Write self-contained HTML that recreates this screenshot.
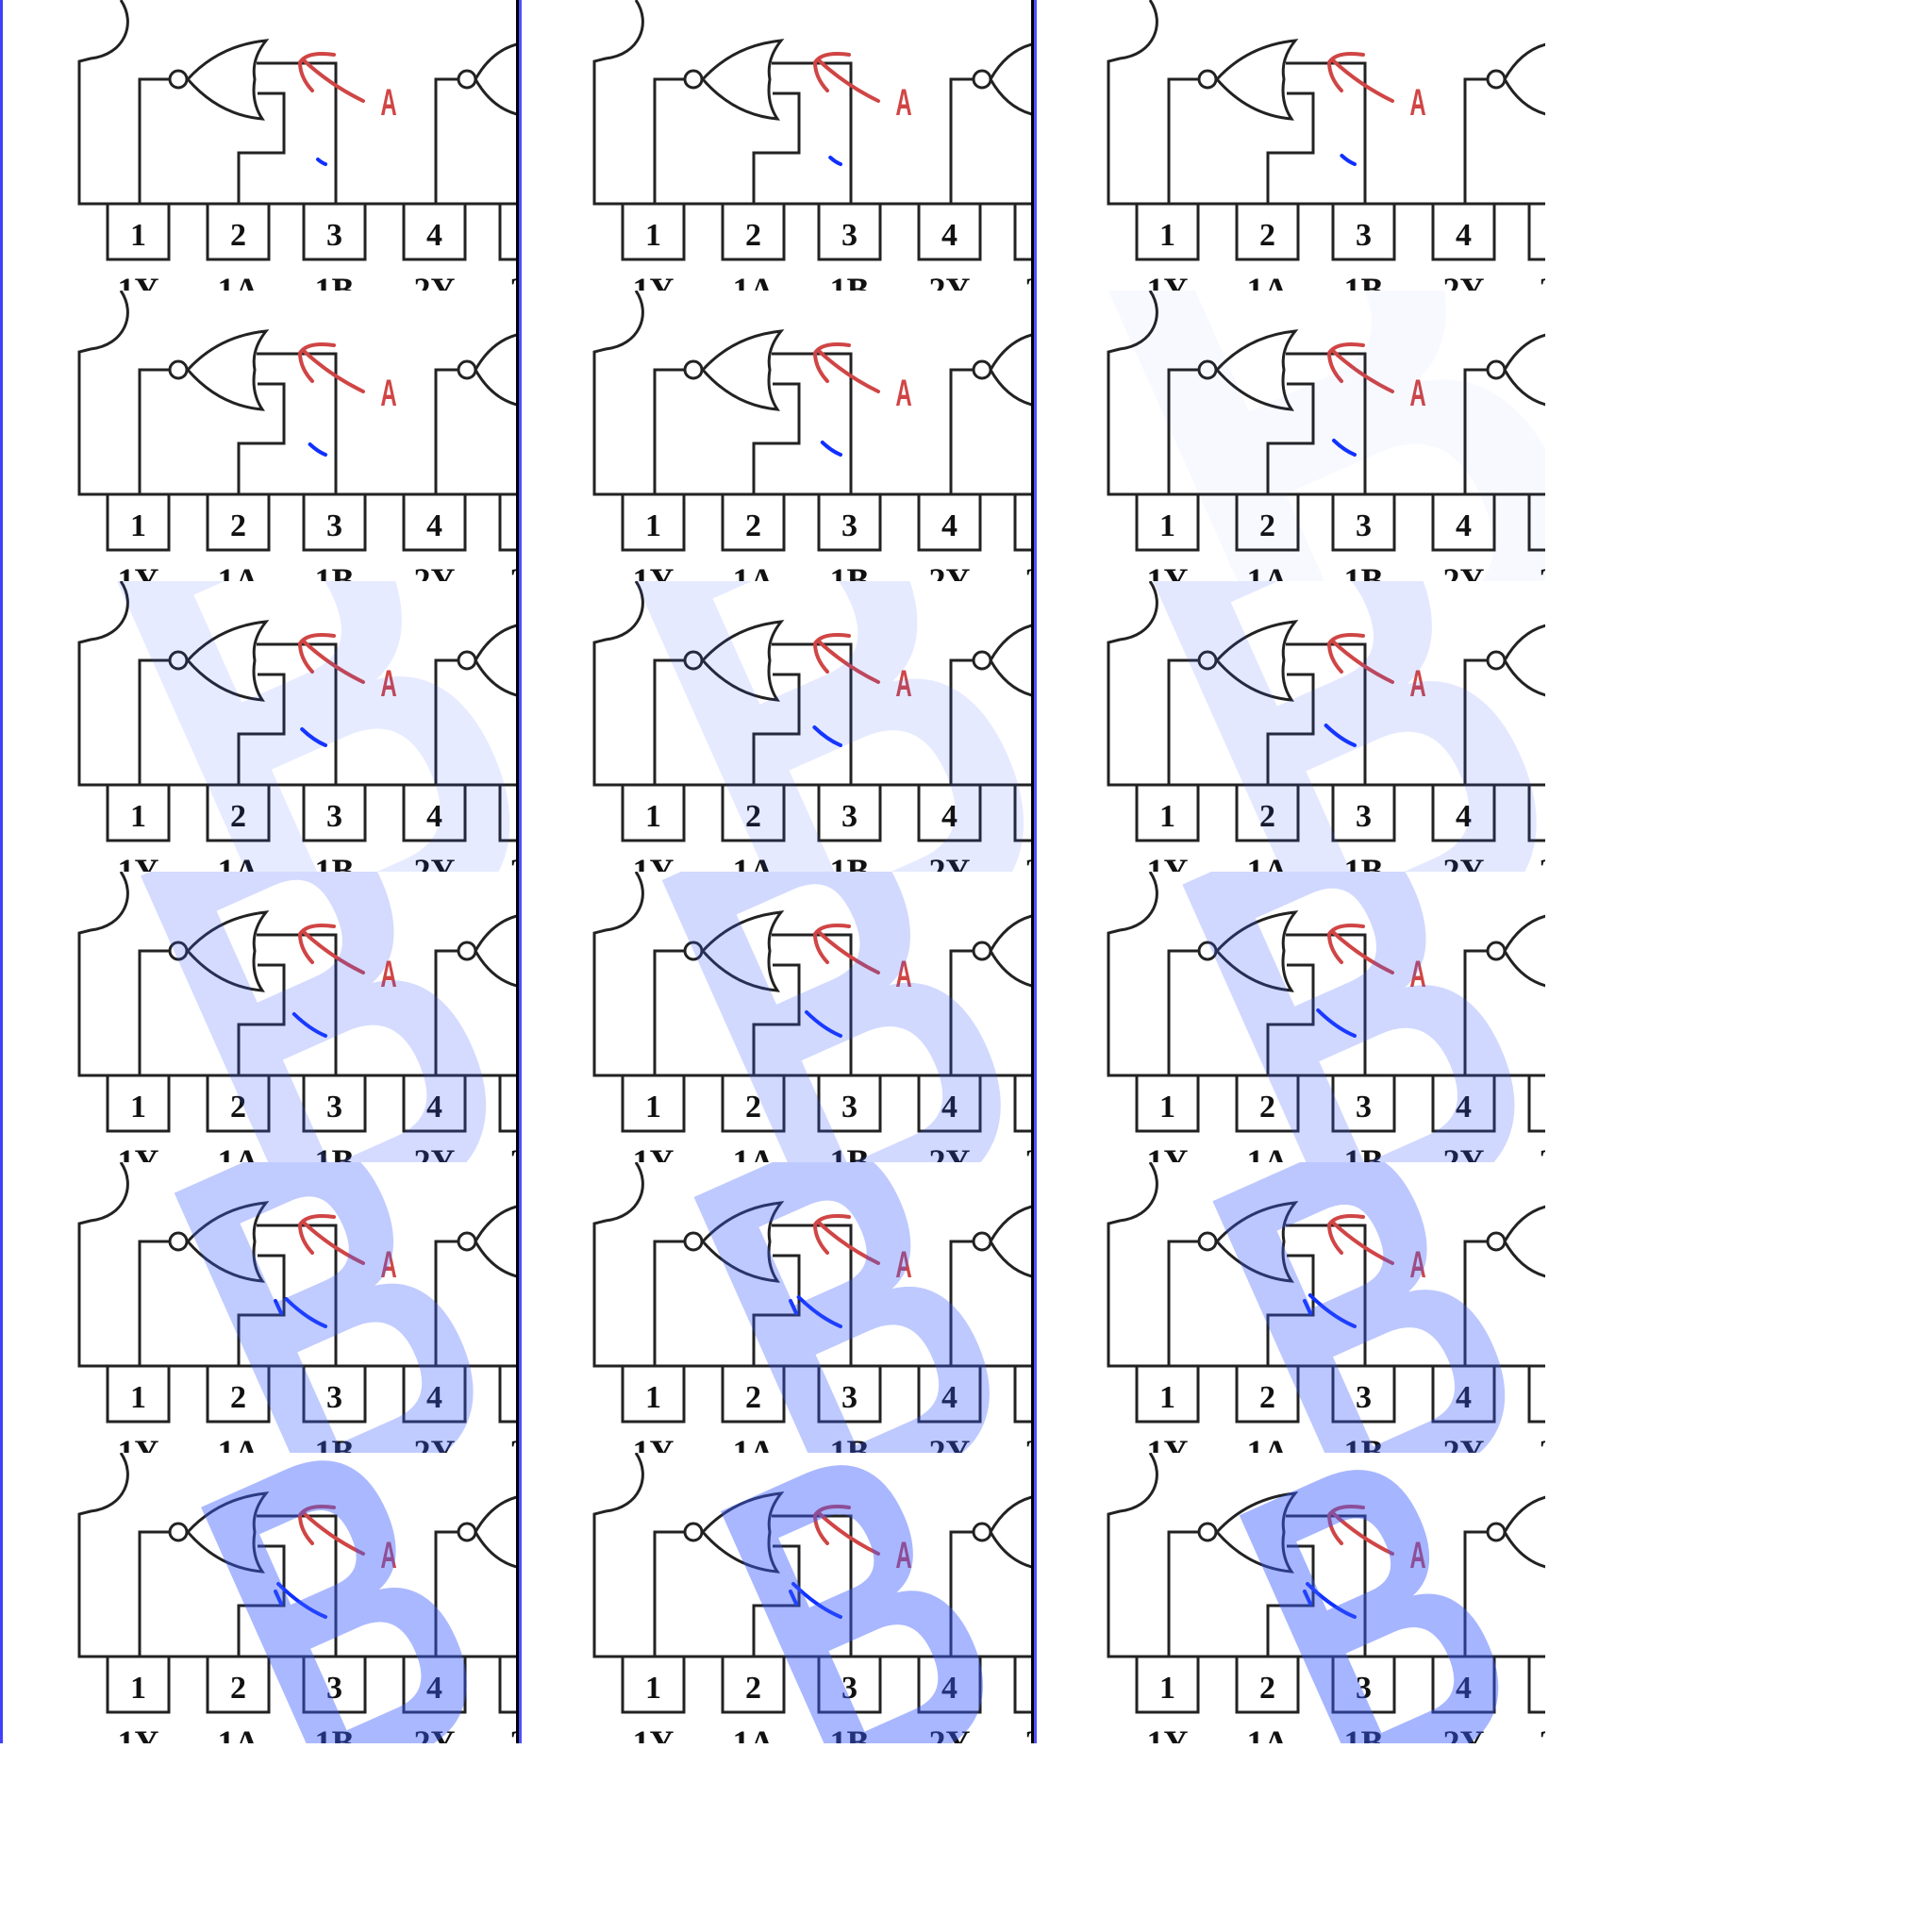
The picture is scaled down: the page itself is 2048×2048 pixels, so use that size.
<!DOCTYPE html>
<html><head><meta charset="utf-8"><style>
html,body{margin:0;padding:0;background:#fff;width:2048px;height:2048px;overflow:hidden}
svg{display:block}
</style></head><body>
<svg id="root" width="2048" height="2048" viewBox="0 0 2048 2048" xmlns="http://www.w3.org/2000/svg">
<rect width="2048" height="2048" fill="#fff"/>
<defs>
<clipPath id="c0"><rect x="0" y="0" width="547" height="308"/></clipPath>
</defs>
<g id="tiles"></g>
<g id="borders"></g>
</svg>
<script>
const NS='http://www.w3.org/2000/svg';
// per-frame watermark values
const bOpacity=[0,0,0,0,0,0.04, 0.12,0.13,0.14, 0.22,0.23,0.24, 0.32,0.33,0.34, 0.43,0.44,0.45];
const bSize=[0,0,0,0,0,750, 610,600,590, 520,510,500, 450,445,440, 400,395,390];
const bCx=[0,0,0,0,0,330, 335,337,339, 340,343,346, 350,353,356, 360,363,366];
const bCy=[0,0,0,0,0,130, 130,132,134, 140,142,144, 150,153,156, 162,165,168];
const pinDigits=['1','2','3','4','5'];
const pinLabels=['1Y','1A','1B','2Y','2A'];
const pinX=[114,220,322,428,530];

function el(tag,attrs,parent){const e=document.createElementNS(NS,tag);for(const k in attrs)e.setAttribute(k,attrs[k]);if(parent)parent.appendChild(e);return e;}

const tiles=document.getElementById('tiles');
const colX=[0,546,1091], rowH=308;
for(let r=0;r<6;r++)for(let c=0;c<3;c++){
  const f=r*3+c;
  const g=el('g',{transform:`translate(${colX[c]},${r*rowH})`,'clip-path':'url(#c0)'},tiles);
  
  
  const s={stroke:'#222','stroke-width':3,fill:'none'};
  const circ=el('g',s,g);
  
  
  el('path',{d:'M128,0 C145,25 132,58 96,62 L84,65 V216 H552'},circ);
  el('path',{d:'M199,84 Q232,48 282,43 Q266,63 270,84 Q266,108 278,126 Q232,122 199,84 Z'},circ);
  el('circle',{cx:189,cy:84,r:9},circ);
  el('path',{d:'M180,84 H148 V216'},circ);
  el('path',{d:'M272,67 H356 V216'},circ);
  el('path',{d:'M273,99 H301 V162 H253 V216'},circ);
  el('circle',{cx:495,cy:84,r:9},circ);
  el('path',{d:'M486,84 H462 V216'},circ);
  el('path',{d:'M504,84 Q522,52 552,46 M504,84 Q522,116 552,122'},circ);
  for(let i=0;i<5;i++){
    const b=el('rect',{x:pinX[i],y:216,width:65,height:59},circ);
    
    
    const t=el('text',{x:pinX[i]+32.5,y:260,'text-anchor':'middle','font-family':'Liberation Serif, serif','font-weight':'bold','font-size':34,fill:'#111',stroke:'none'},g);
    t.textContent=pinDigits[i];
    
    
    const l=el('text',{x:pinX[i]+32.5,y:319,'text-anchor':'middle','font-family':'Liberation Serif, serif','font-weight':'bold','font-size':36,fill:'#111'},g);
    l.textContent=pinLabels[i];
    
    
  }
  const red=el('path',{d:'M354,58 Q326,54 318,66 Q318,82 331,96 M322,64 Q350,90 385,107',stroke:'#d04545','stroke-width':4,fill:'none','stroke-linecap':'round'},g);
  
  
  const A=el('text',{x:0,y:0,transform:'translate(412,122) scale(0.6,1)','text-anchor':'middle','font-family':'Liberation Sans, sans-serif','font-weight':'bold','font-size':40,fill:'#d04545'},g);
  A.textContent='A';
  
  
  const k=Math.min(f,15)/15;
  const sx=337-42*k, sy=169-30*k;
  let d=`M${sx},${sy} Q${(sx+345)/2},${sy+ (174-sy)*0.7} 345,174`;
  if(f>=12) d+=' M292,147 L298,160';
  const blue=el('path',{d:d,stroke:'#1030ff','stroke-width':4,fill:'none','stroke-linecap':'round'},g);
  
  
  if(bOpacity[f]>0){
    const B=el('text',{x:0,y:bSize[f]*0.365,transform:`translate(${bCx[f]},${bCy[f]}) rotate(-24) scale(0.78,1.2)`,'text-anchor':'middle','font-family':'Liberation Sans, sans-serif','font-weight':'bold','font-size':bSize[f],fill:'#3a5cff','fill-opacity':bOpacity[f]},g);
    B.textContent='B';
    
    
  }
}
const borders=document.getElementById('borders');
const bl=el('rect',{x:0,y:0,width:3,height:1848,fill:'#4040ff'},borders);


[547,1093].forEach(x=>{
  const a=el('rect',{x:x,y:0,width:3,height:1848,fill:'#000'},borders);
  
  
  const b=el('rect',{x:x+3,y:0,width:3,height:1848,fill:'#5050ff'},borders);
  
  
});
const wb=el('rect',{x:1638,y:0,width:410,height:1848,fill:'#fff'},borders);


</script>
</body></html>
